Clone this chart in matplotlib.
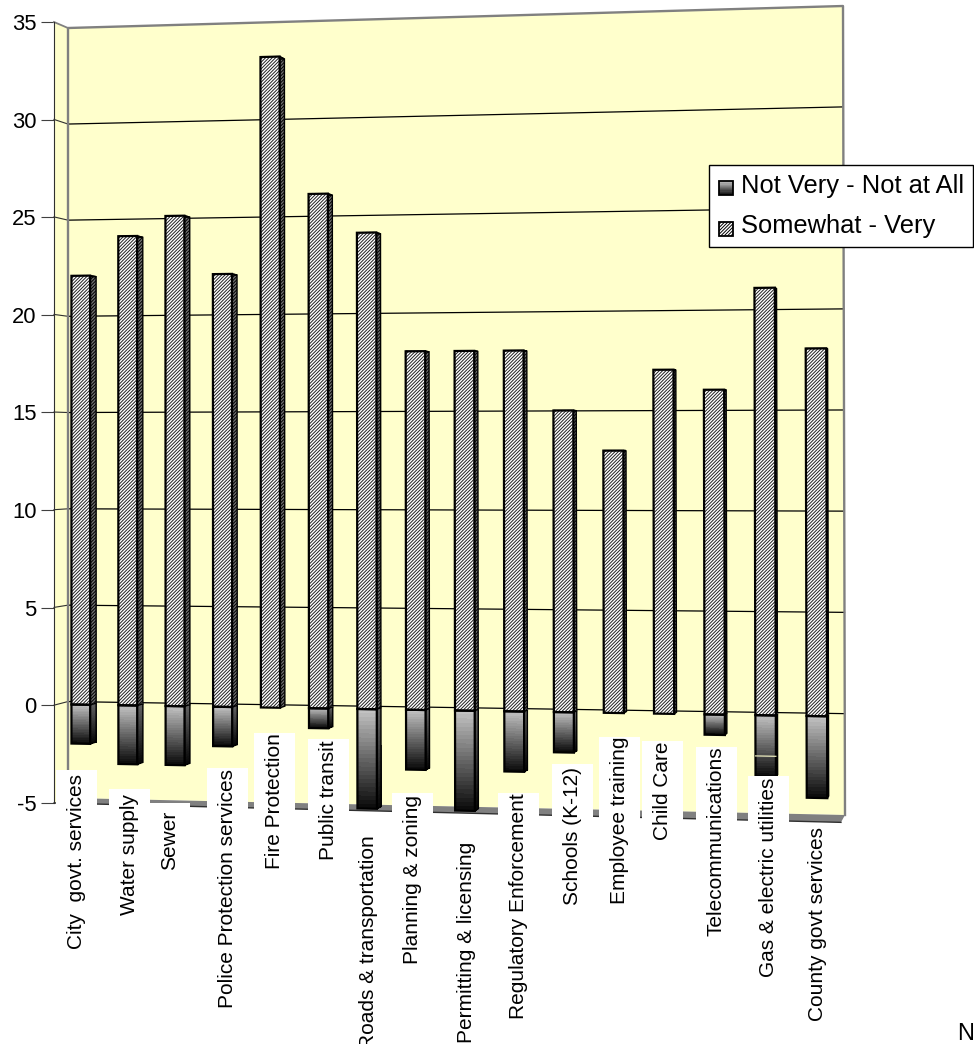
import numpy as np
import matplotlib
matplotlib.use('Agg')
import matplotlib.pyplot as plt
from matplotlib.patches import Polygon, Rectangle
from matplotlib.transforms import Affine2D, IdentityTransform, Transform

plt.rcParams['font.family'] = ['Liberation Sans', 'DejaVu Sans']
plt.rcParams['axes.unicode_minus'] = False
plt.rcParams['hatch.linewidth'] = 0.7
plt.rcParams['hatch.color'] = '#202020'

services = ['City  govt. services', 'Water supply', 'Sewer', 'Police Protection services',
            'Fire Protection', 'Public transit', 'Roads & transportation', 'Planning & zoning',
            'Permitting & licensing', 'Regulatory Enforcement', 'Schools (K-12)', 'Employee training',
            'Child Care', 'Telecommunications', 'Gas & electric utilities', 'County govt services']
somewhat_very = [22, 24, 25, 22, 33, 26, 24, 18, 18, 18, 15, 13, 17, 16, 21, 18]
not_very = [-2, -3, -3, -2, 0, -1, -5, -3, -5, -3, -2, 0, 0, -1, -3, -4]
legend_names = ['Not Very - Not at All', 'Somewhat - Very']
value_ticks = [-5, 0, 5, 10, 15, 20, 25, 30, 35]

# label layout, in pixels from the top left of the figure
box_left = [56, 109, 149, 207, 254, 308, 348, 392, 446, 498, 552, 599, 642, 696, 748, 797]
box_top = [770, 789, 803, 768, 733, 739, 830, 793, 839, 793, 764, 737, 741, 747, 776, 823]
text_top = [774, 794, 811, 769, 733, 740, 835, 795, 842, 793, 767, 737, 742, 746, 778, 827]
BOX_W = 41

W, H = 974, 1044
N_CAT = len(services)
YELLOW = '#FFFFCC'
BAR_W = 0.40
FINE = '/' * 10

fig = plt.figure(figsize=(W / 100, H / 100), dpi=100, facecolor='white')
ax = fig.add_axes([54 / W, (H - 803) / H, (843 - 54) / W, 781 / H])
ax.set_xlim(0, N_CAT)
ax.set_ylim(-5, 35)
ax.patch.set_visible(False)

px = Affine2D().scale(1, -1).translate(0, H)

# back wall corners on the page: (slot, value) -> (x, y)
src = np.array([[0, -5], [N_CAT, -5], [N_CAT, 35], [0, 35]], float)
dst = np.array([[68, 798], [845, 815], [843, 6], [68, 28]], float)
rows, rhs = [], []
for (a, b), (c, d) in zip(src, dst):
    rows.append([a, b, 1, 0, 0, 0, -a * c, -b * c])
    rows.append([0, 0, 0, a, b, 1, -a * d, -b * d])
    rhs += [c, d]
homog = np.append(np.linalg.solve(np.array(rows), np.array(rhs)), 1).reshape(3, 3)
VANISH = np.array([1047.0, 447.0])


class DepthPlane(Transform):
    # (slot, value) to display, on a plane some way in front of the back wall
    input_dims = 2
    output_dims = 2
    has_inverse = False

    def __init__(self, zoom=1.0):
        super().__init__()
        self.zoom = zoom

    def transform_non_affine(self, values):
        values = np.asarray(values, float)
        p = np.c_[values, np.ones(len(values))] @ homog.T
        p = p[:, :2] / p[:, 2:]
        p = VANISH + (p - VANISH) * self.zoom
        return np.c_[p[:, 0], H - p[:, 1]]


wall = DepthPlane(1.0)
axis_plane = DepthPlane(1.0143)
floor_edge = DepthPlane(1.02)
front = DepthPlane(1.0108)
back = DepthPlane(1.0045)


def across(p1, p2, slot, v0, v1):
    # quad running from one plane to another along a constant slot
    a = p1.transform(np.array([[slot, v0], [slot, v1]]))
    b = p2.transform(np.array([[slot, v1], [slot, v0]]))
    return np.vstack([a, b])


def add_poly(xy, trans, **kw):
    kw.setdefault('clip_on', False)
    return ax.add_patch(Polygon(xy, closed=True, transform=trans, **kw))


# walls and floor
add_poly(across(axis_plane, wall, 0, -5, 35), IdentityTransform(), fc=YELLOW, ec='none', zorder=1)
add_poly([(0, -5), (N_CAT, -5), (N_CAT, 35), (0, 35)], wall, fc=YELLOW, ec='none', zorder=1)
floor = np.vstack([wall.transform(np.array([[0, -5], [N_CAT, -5]])),
                   floor_edge.transform(np.array([[N_CAT, -5]])),
                   axis_plane.transform(np.array([[0, -5]]))])
add_poly(floor, IdentityTransform(), fc='#808080', ec='none', zorder=1.5)
ax.plot(floor[2:, 0], floor[2:, 1], color='#303030', lw=1, transform=IdentityTransform(), clip_on=False, zorder=1.6)

# grid lines along the back and on the side wall
for v in value_ticks[1:-1]:
    ax.plot([0, N_CAT], [v, v], color='black', lw=0.9, transform=wall, clip_on=False, zorder=2)
    seg = np.vstack([axis_plane.transform(np.array([[0, v]])), wall.transform(np.array([[0, v]]))])
    ax.plot(seg[:, 0], seg[:, 1], color='#303030', lw=0.8, transform=IdentityTransform(), clip_on=False, zorder=2)
seg = np.vstack([axis_plane.transform(np.array([[0, 35]])), wall.transform(np.array([[0, 35]]))])
ax.plot(seg[:, 0], seg[:, 1], color='#808080', lw=1.3, transform=IdentityTransform(), clip_on=False, zorder=2)
ax.plot([0, 0, N_CAT, N_CAT], [-5, 35, 35, -5], color='#808080', lw=1.7, transform=wall, clip_on=False, zorder=2)


def gradient_face(corner_fn, v_top, v_bot, top_grey, bot_grey, steps=24):
    edges = np.linspace(v_top, v_bot, steps + 1)
    shades = np.linspace(top_grey, bot_grey, steps)
    for k in range(steps):
        add_poly(corner_fn(edges[k], edges[k + 1]), IdentityTransform(), fc=str(shades[k]),
                 ec='none', antialiased=False, zorder=3)


for i in range(N_CAT):
    x0, x1 = i + 0.5 - BAR_W / 2, i + 0.5 + BAR_W / 2
    pos, neg = somewhat_very[i], not_very[i]

    # upper part, hatched
    add_poly(across(front, back, x1, 0, pos), IdentityTransform(), fc='#707070', ec='black', lw=1.0,
             hatch=FINE, zorder=3)
    top = np.vstack([front.transform(np.array([[x0, pos], [x1, pos]])),
                     back.transform(np.array([[x1, pos], [x0, pos]]))])
    add_poly(top, IdentityTransform(), fc='#505050', ec='black', lw=1.0, zorder=3)
    add_poly([(x0, 0), (x1, 0), (x1, pos), (x0, pos)], front, fc='white', lw=0, hatch=FINE, zorder=3.1)
    add_poly([(x0, 0), (x1, 0), (x1, pos), (x0, pos)], front, fc='none', ec='black', lw=1.6, zorder=3.2)

    # lower part, shaded from grey to black
    if neg < 0:
        gradient_face(lambda a, b: across(front, back, x1, a, b), 0, neg, 0.38, 0.03)
        add_poly(across(front, back, x1, 0, neg), IdentityTransform(), fc='none', ec='black', lw=1.0, zorder=3.1)
        gradient_face(lambda a, b: front.transform(np.array([[x0, a], [x1, a], [x1, b], [x0, b]])),
                      0, neg, 0.76, 0.05)
        add_poly([(x0, 0), (x1, 0), (x1, neg), (x0, neg)], front, fc='none', ec='black', lw=1.6, zorder=3.2)

# pale seam across the gas and electric bar
gas = services.index('Gas & electric utilities')
ax.plot([gas + 0.5 - BAR_W / 2, gas + 0.5 + BAR_W / 2], [-2, -2], color=YELLOW, lw=0.8,
        transform=front, clip_on=False, zorder=3.5)

# value axis on the front left edge
for side in ['top', 'right', 'bottom']:
    ax.spines[side].set_visible(False)
ax.spines['left'].set_color('#303030')
ax.spines['left'].set_zorder(4)
ax.set_xticks([])
ax.set_yticks(value_ticks)
ax.tick_params(axis='y', length=9.5, width=0.8, color='#404040', pad=3, labelsize=15.8, labelcolor='black')

# category labels sit on white boxes over the bars
for name, left, btop, ttop in zip(services, box_left, box_top, text_top):
    ax.add_patch(Rectangle((left, btop), BOX_W, H - btop, transform=px,
                           fc='white', ec='none', clip_on=False, zorder=5))
    ax.text(left + BOX_W / 2, ttop, name, rotation=90, ha='center', va='top', fontsize=15,
            color='black', transform=px, clip_on=False, zorder=6)

# legend
ax.add_patch(Rectangle((709, 165), 264, 82, transform=px, fc='white', ec='black', lw=1,
                       clip_on=False, zorder=7))
ax.add_patch(Rectangle((719, 181), 14, 14, transform=px, fc='none', ec='black', lw=1.3,
                       clip_on=False, zorder=8.2))
swatch = np.linspace(0.76, 0.05, 12)
for k, shade in enumerate(swatch):
    ax.add_patch(Rectangle((719, 181 + k * 14 / 12), 14, 14 / 12 + 0.3, transform=px, fc=str(shade),
                           ec='none', antialiased=False, clip_on=False, zorder=8))
ax.add_patch(Rectangle((719, 222), 14, 14, transform=px, fc='white', ec='black', lw=1.3, hatch=FINE,
                       clip_on=False, zorder=8))
ax.text(741, 186, legend_names[0], fontsize=18.4, va='center', ha='left', transform=px, zorder=9)
ax.text(741, 226, legend_names[1], fontsize=18.4, va='center', ha='left', transform=px, zorder=9)

fig.text(957 / W, (H - 1040) / H, 'N', fontsize=17, color='black', ha='left', va='baseline')

fig.savefig('out.png', dpi=100)
